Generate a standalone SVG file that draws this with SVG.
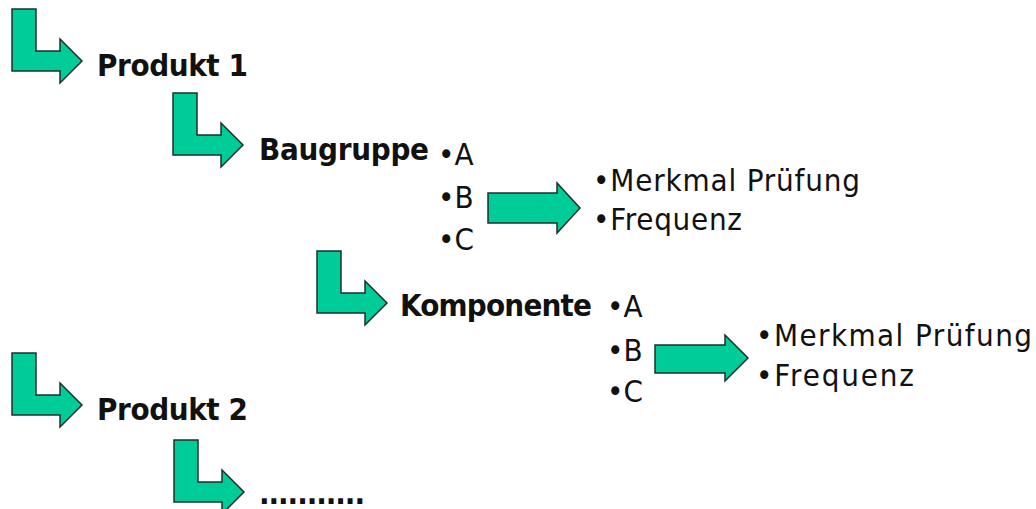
<svg xmlns="http://www.w3.org/2000/svg" xmlns:xlink="http://www.w3.org/1999/xlink" width="1036" height="509" viewBox="0 0 1036 509">
<style>
.arrow{fill:#00CC99;stroke:#1f2f28;stroke-width:1.5;stroke-linejoin:miter}
.b{font-family:"DejaVu Sans Condensed","DejaVu Sans",sans-serif;font-stretch:condensed;font-weight:bold;font-size:31px;fill:#111}
.r{font-family:"DejaVu Sans Condensed","DejaVu Sans",sans-serif;font-stretch:condensed;font-weight:normal;font-size:31px;fill:#111}
</style>
<defs>
<path id="larrow" d="M12,9 H36 V51 H60 V39 L82,61 L60,83 V71 H12 Z"/>
</defs>
<rect width="1036" height="509" fill="#fff"/>
<g id="connectors">
<use xlink:href="#larrow" class="arrow"/>
<use xlink:href="#larrow" class="arrow" transform="translate(161,84)"/>
<use xlink:href="#larrow" class="arrow" transform="translate(305,242)"/>
<use xlink:href="#larrow" class="arrow" transform="translate(0,344)"/>
<use xlink:href="#larrow" class="arrow" transform="translate(162,431)"/>
<path class="arrow" d="M488,193 H557 V183 L580,208 L557,233 V223 H488 Z"/>
<path class="arrow" d="M655,345 H725 V335 L748,358 L725,381 V373 H655 Z"/>
</g>
<g id="produkt1"><text class="b" x="97" y="76" textLength="151">Produkt 1</text></g>
<g id="baugruppe">
<text class="b" x="259" y="160" textLength="170">Baugruppe</text>
<text class="r" x="438" y="165">•A</text>
<text class="r" x="438" y="208">•B</text>
<text class="r" x="438" y="250">•C</text>
</g>
<g id="merkmal1">
<text class="r" x="593" y="191" textLength="267">•Merkmal Prüfung</text>
<text class="r" x="593" y="230" textLength="149">•Frequenz</text>
</g>
<g id="komponente">
<text class="b" x="400" y="316" textLength="192">Komponente</text>
<text class="r" x="607" y="317">•A</text>
<text class="r" x="607" y="361">•B</text>
<text class="r" x="607" y="402">•C</text>
</g>
<g id="merkmal2">
<text class="r" x="756" y="346" textLength="276">•Merkmal Prüfung</text>
<text class="r" x="756" y="386" textLength="158">•Frequenz</text>
</g>
<g id="produkt2"><text class="b" x="97" y="420" textLength="151">Produkt 2</text></g>
<g id="more"><text class="b" x="259" y="504" textLength="106">...........</text></g>
</svg>
